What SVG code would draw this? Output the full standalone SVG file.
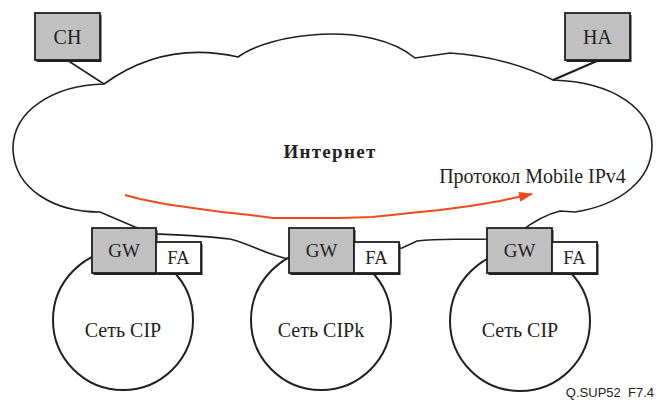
<svg xmlns="http://www.w3.org/2000/svg" width="656" height="400" viewBox="0 0 656 400">
<defs>
<style>
.ln{fill:none;stroke:#231f20;stroke-width:1.6}
.shadow{fill:#231f20}
.gray{fill:#c0c0c0;stroke:#231f20;stroke-width:1.8}
.white{fill:#ffffff;stroke:#231f20;stroke-width:1.8}
.net{fill:#ffffff;stroke:#231f20;stroke-width:2}
.t{font-family:'Liberation Serif','Times New Roman',serif;fill:#231f20;text-anchor:middle}
.lbl{font-size:20px}
.gw{font-size:19px}
.fa{font-size:18.5px}
.red{fill:none;stroke:#f04a1a;stroke-width:2;stroke-linejoin:round}
</style>
<marker id="arr" viewBox="0 0 14 10" refX="13" refY="5" markerWidth="14" markerHeight="10" markerUnits="userSpaceOnUse" orient="auto">
<path d="M0,0 L14,5 L0,10 Z" fill="#f04a1a"/>
</marker>
</defs>
<rect width="656" height="400" fill="#ffffff"/>

<g id="connectors">
<path id="cloud" class="ln" d="M104,84 C140,58 185,45 238,57 C270,33 370,20 415,58 L450,53 C490,55 530,68 553,80 C615,82 652,110 652,145 C652,180 620,205 575,212 L560,211 C548,214 535,220 520,232 L487,239 C460,240 440,238 417,241 L402,248 L300,258 L288,259 C262,253 248,243 230,239 C205,236 180,235 157,234 L135,227 L100,212 C55,212 15,190 13,150 C12,110 55,85 104,84 Z"/>
<line class="ln" x1="67" y1="60" x2="104" y2="84"/>
<line class="ln" x1="597" y1="61" x2="553" y2="80" style="stroke-width:2.4"/>
<polyline class="red" marker-end="url(#arr)" points="125,195 140,199 165,204 200,209 222,212 250,215 273,218 300,218 340,218 372,217 392,215 410,213 440,210 470,206 500,201 532,194"/>
</g>

<g id="CH">
<rect class="shadow" x="36.5" y="15" width="65" height="47"/>
<rect class="gray" x="35" y="13" width="65" height="47"/>
<text class="t lbl" x="67.5" y="43.5">CH</text>
</g>
<g id="HA">
<rect class="shadow" x="566.5" y="15" width="65" height="47"/>
<rect class="gray" x="565" y="13" width="65" height="47"/>
<text class="t lbl" x="597.5" y="43.5">HA</text>
</g>

<text id="internet" class="t" x="330" y="158" style="font-size:19px;font-weight:bold;letter-spacing:1.3px">Интернет</text>
<text id="mip" class="t lbl" x="532.5" y="183">Протокол Mobile IPv4</text>

<g id="net1">
<circle class="net" cx="123" cy="320" r="70"/>
<text class="t lbl" x="123" y="337">Сеть CIP</text>
<rect class="shadow" x="93.5" y="230" width="64" height="45"/>
<rect class="shadow" x="157.5" y="244" width="45" height="31"/>
<rect class="gray" x="92" y="228" width="64" height="45"/>
<rect class="white" x="156" y="242" width="45" height="31"/>
<text class="t gw" x="124" y="257">GW</text>
<text class="t fa" x="178.5" y="264">FA</text>
</g>
<g id="net2">
<circle class="net" cx="321" cy="320" r="70"/>
<text class="t lbl" x="321" y="337">Сеть CIPk</text>
<rect class="shadow" x="290.5" y="230" width="65" height="45"/>
<rect class="shadow" x="355.5" y="244" width="45" height="31"/>
<rect class="gray" x="289" y="228" width="65" height="45"/>
<rect class="white" x="354" y="242" width="45" height="31"/>
<text class="t gw" x="321.5" y="257">GW</text>
<text class="t fa" x="376.5" y="264">FA</text>
</g>
<g id="net3">
<circle class="net" cx="520" cy="321" r="70"/>
<text class="t lbl" x="520" y="337">Сеть CIP</text>
<rect class="shadow" x="488.5" y="230" width="65" height="45"/>
<rect class="shadow" x="553.5" y="244" width="45" height="31"/>
<rect class="gray" x="487" y="228" width="65" height="45"/>
<rect class="white" x="552" y="242" width="45" height="31"/>
<text class="t gw" x="519.5" y="257">GW</text>
<text class="t fa" x="574.5" y="264">FA</text>
</g>

<text id="fig" x="654" y="397" xml:space="preserve" style="font-family:'Liberation Sans',Arial,sans-serif;font-size:13px;fill:#231f20;text-anchor:end;white-space:pre">Q.SUP52  F7.4</text>
</svg>
